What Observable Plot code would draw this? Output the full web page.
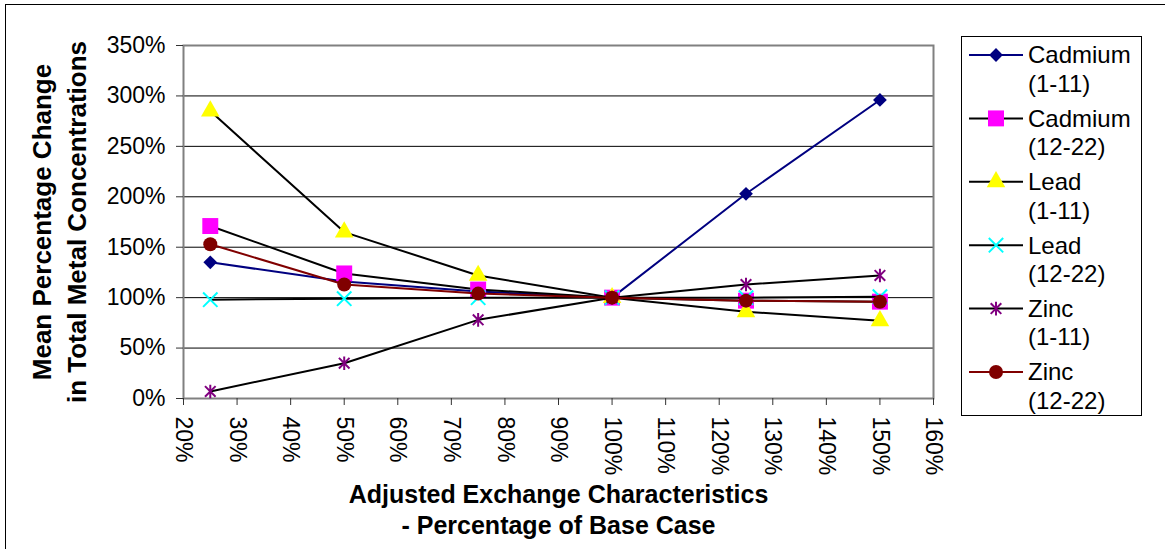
<!DOCTYPE html>
<html><head><meta charset="utf-8">
<script src="https://cdn.jsdelivr.net/npm/d3@7"></script>
<script src="https://cdn.jsdelivr.net/npm/@observablehq/plot@0.6"></script>
<style>
body{margin:0;background:#fff;}
svg{display:block}
</style>
</head><body><div id="chart"></div>
<script>
// ---- data ----
const xValues = [25, 50, 75, 100, 125, 150];
const seriesNames = ["Cadmium (1-11)", "Cadmium (12-22)", "Lead (1-11)", "Lead (12-22)", "Zinc (1-11)", "Zinc (12-22)"];
const legendLine1 = ["Cadmium", "Cadmium", "Lead", "Lead", "Zinc", "Zinc"];
const legendLine2 = ["(1-11)", "(12-22)", "(1-11)", "(12-22)", "(1-11)", "(12-22)"];
const cadmium1 = [135, 116, 106, 100, 203, 296];
const cadmium2 = [171, 124, 108, 100, 97, 96];
const lead1 = [285, 165, 122, 100, 86, 77];
const lead2 = [98, 99, 100, 100, 100, 101];
const zinc1 = [7, 35, 78, 100, 113, 122];
const zinc2 = [153, 113, 104, 100, 97, 96];
const yTicks = [0, 50, 100, 150, 200, 250, 300, 350];
const xTicks = [20, 30, 40, 50, 60, 70, 80, 90, 100, 110, 120, 130, 140, 150, 160];
const yTitle = ["Mean Percentage Change", "in Total Metal Concentrations"];
const xTitle = ["Adjusted Exchange Characteristics", "- Percentage of Base Case"];

// ---- styles ----
const seriesValues = [cadmium1, cadmium2, lead1, lead2, zinc1, zinc2];
const lineColors = ["#000080", "#000000", "#000000", "#000000", "#000000", "#800000"];
const markerColors = ["#000080", "#FF00FF", "#FFFF00", "#00FFFF", "#800080", "#800000"];
// Excel-like star: vertical bar plus an X
const starSymbol = {
  draw(ctx, size) {
    const r = Math.sqrt(size / Math.PI);
    const d = r * 0.78;
    ctx.moveTo(0, -r); ctx.lineTo(0, r);
    ctx.moveTo(-d, -d); ctx.lineTo(d, d);
    ctx.moveTo(-d, d); ctx.lineTo(d, -d);
  }
};
const markerSymbols = [d3.symbolDiamond2, d3.symbolSquare, d3.symbolTriangle, d3.symbolTimes, starSymbol, d3.symbolCircle];
const markerRadii = [6.2, 9.0, 6.9, 6.6, 6.8, 7.0];
const strokedMarker = [false, false, false, true, true, false];
const FONT = "'Liberation Sans', Arial, Helvetica, sans-serif";

const rows = seriesNames.flatMap((name, i) =>
  xValues.map((x, j) => ({series: name, idx: i, x, y: seriesValues[i][j]})));

const seriesMarks = seriesNames.flatMap((name, i) => {
  const data = rows.filter(d => d.idx === i);
  const dotOpts = strokedMarker[i]
    ? {x: "x", y: "y", symbol: markerSymbols[i], r: markerRadii[i], stroke: markerColors[i], strokeWidth: 2, fill: "none"}
    : {x: "x", y: "y", symbol: markerSymbols[i], r: markerRadii[i], fill: markerColors[i], stroke: "none"};
  return [
    Plot.line(data, {x: "x", y: "y", stroke: lineColors[i], strokeWidth: 2}),
    Plot.dot(data, dotOpts)
  ];
});

const chart = Plot.plot({
  width: 1165,
  height: 549,
  marginLeft: 183,
  marginRight: 232,
  marginTop: 45,
  marginBottom: 151,
  style: {fontFamily: FONT, background: "#fff", color: "#000", overflow: "visible"},
  x: {domain: [20, 160]},
  y: {domain: [0, 350]},
  marks: [
    Plot.gridY(yTicks.filter(v => v > 0 && v < 350), {stroke: "#000", strokeOpacity: 1, strokeWidth: 1}),
    Plot.frame({stroke: "#808080", strokeWidth: 2}),
    Plot.axisY({ticks: yTicks, tickSize: 7, tickPadding: 11, tickFormat: d => d + "%", fontSize: 23, label: null, stroke: "#333", fill: "#000"}),
    Plot.axisX({ticks: xTicks, tickSize: 7, tickPadding: 11, tickRotate: 90, tickFormat: d => d + "%", fontSize: 23, label: null, stroke: "#333", fill: "#000"}),
    ...seriesMarks,
    Plot.text([yTitle[0]], {frameAnchor: "left", rotate: -90, dx: -133, textAnchor: "middle", lineAnchor: "bottom", fontSize: 26, fontWeight: "bold", fill: "#000"}),
    Plot.text([yTitle[1]], {frameAnchor: "left", rotate: -90, dx: -98, textAnchor: "middle", lineAnchor: "bottom", fontSize: 26, fontWeight: "bold", fill: "#000"}),
    Plot.text([xTitle[0]], {frameAnchor: "bottom", dy: 104, textAnchor: "middle", lineAnchor: "bottom", fontSize: 25, fontWeight: "bold", fill: "#000"}),
    Plot.text([xTitle[1]], {frameAnchor: "bottom", dy: 135, textAnchor: "middle", lineAnchor: "bottom", fontSize: 25, fontWeight: "bold", fill: "#000"})
  ]
});

document.getElementById("chart").appendChild(chart);

// ---- outer chart border + legend ----
const svg = d3.select(chart);
svg.append("rect").attr("x", 5.5).attr("y", 4.5).attr("width", 1300).attr("height", 700)
  .attr("fill", "none").attr("stroke", "#000").attr("stroke-width", 1);

const lg = svg.append("g").attr("font-family", FONT).attr("font-size", 24).attr("text-anchor", "start");
lg.append("rect").attr("x", 961.5).attr("y", 36.5).attr("width", 180).attr("height", 379)
  .attr("fill", "#fff").attr("stroke", "#000").attr("stroke-width", 1);
seriesNames.forEach((name, i) => {
  const cy = 55 + 63.4 * i;
  const g = lg.append("g");
  g.append("line").attr("x1", 969).attr("x2", 1023).attr("y1", cy).attr("y2", cy)
    .attr("stroke", lineColors[i]).attr("stroke-width", 2);
  const size = Math.PI * markerRadii[i] * markerRadii[i];
  const p = g.append("path").attr("d", d3.symbol(markerSymbols[i], size)()).attr("transform", `translate(996,${cy})`);
  if (strokedMarker[i]) p.attr("fill", "none").attr("stroke", markerColors[i]).attr("stroke-width", 2);
  else p.attr("fill", markerColors[i]);
  g.append("text").attr("x", 1028).attr("y", cy + 8.3).attr("fill", "#000").attr("text-anchor", "start").text(legendLine1[i]);
  g.append("text").attr("x", 1028).attr("y", cy + 36.7).attr("fill", "#000").attr("text-anchor", "start").text(legendLine2[i]);
});
</script>
</body></html>
